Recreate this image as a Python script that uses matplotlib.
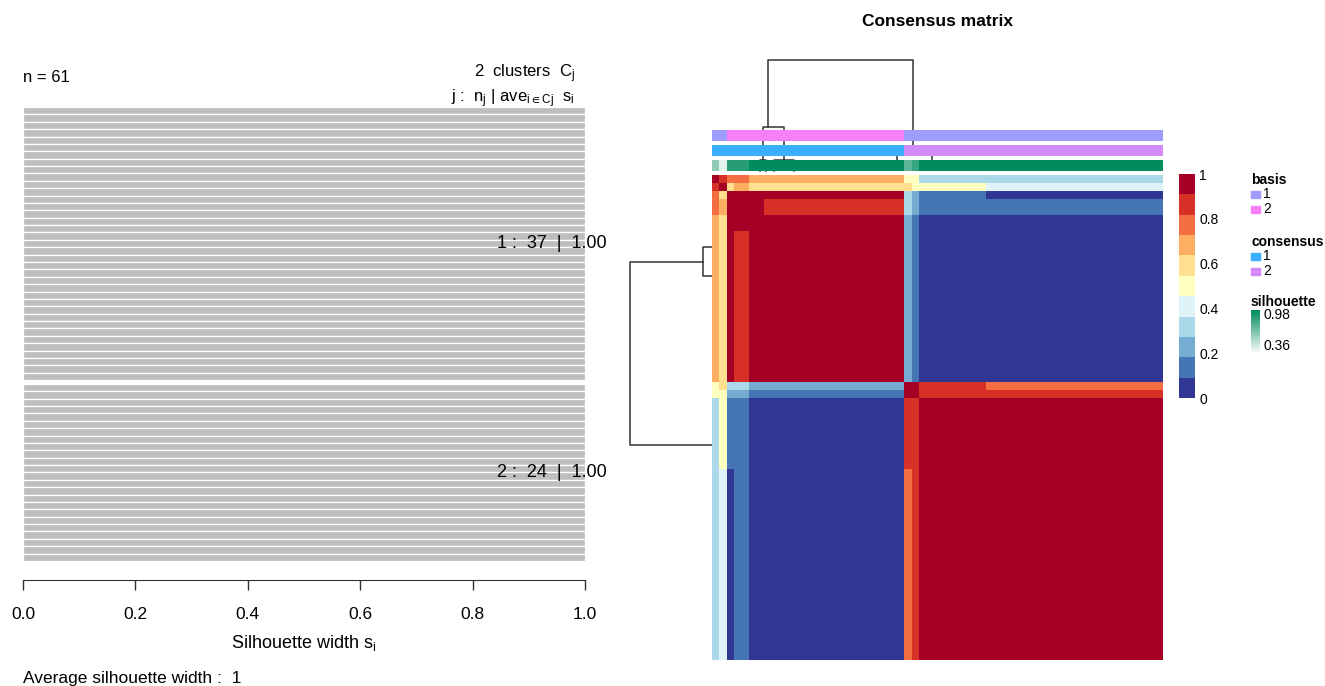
import numpy as np
import matplotlib.pyplot as plt
from matplotlib.colors import ListedColormap, Normalize, LinearSegmentedColormap
from matplotlib.cm import ScalarMappable
from matplotlib.patches import Rectangle

plt.rcParams['font.family'] = ['Liberation Sans', 'DejaVu Sans']
plt.rcParams['mathtext.default'] = 'regular'

# ---------------- silhouette panel data
cluster_names = ['1', '2']
cluster_sizes = [37, 24]
cluster_means = [1.00, 1.00]
sil_widths = {'1': [1.00] * 37, '2': [1.00] * 24}
avg_width = 1
sil_ticks = [0.0, 0.2, 0.4, 0.6, 0.8, 1.0]

# ---------------- consensus matrix (row profiles as (value, run length) over the 61 columns)
profiles = {
    'a': [(1.00, 1), (0.85, 1), (0.75, 3), (0.65, 21), (0.50, 2), (0.30, 33)],
    'b': [(0.85, 1), (1.00, 1), (0.60, 1), (0.65, 2), (0.60, 22), (0.50, 10), (0.40, 24)],
    'c': [(0.75, 1), (0.60, 1), (1.00, 24), (0.30, 1), (0.20, 1), (0.10, 9), (0.00, 24)],
    'd': [(0.75, 1), (0.65, 1), (1.00, 5), (0.85, 19), (0.30, 1), (0.20, 1), (0.10, 33)],
    'e': [(0.65, 1), (0.60, 1), (1.00, 24), (0.20, 1), (0.10, 1), (0.00, 33)],
    'f': [(0.65, 1), (0.60, 1), (1.00, 1), (0.85, 2), (1.00, 21), (0.20, 1), (0.10, 1), (0.00, 33)],
    'g': [(0.50, 1), (0.60, 1), (0.30, 3), (0.20, 21), (1.00, 2), (0.85, 9), (0.75, 24)],
    'h': [(0.50, 1), (0.50, 1), (0.20, 3), (0.10, 21), (1.00, 2), (0.85, 33)],
    'i': [(0.30, 1), (0.50, 1), (0.10, 3), (0.00, 21), (0.85, 2), (1.00, 33)],
    'j': [(0.30, 1), (0.40, 1), (0.00, 1), (0.10, 2), (0.00, 21), (0.75, 1), (0.85, 1), (1.00, 33)],
}
row_runs = [('a', 1), ('b', 1), ('c', 1), ('d', 2), ('e', 2), ('f', 19),
            ('g', 1), ('h', 1), ('i', 9), ('j', 24)]

# column annotations
basis_runs = [(1, 2), (2, 24), (1, 35)]
consensus_runs = [(1, 26), (2, 35)]
silhouette_runs = [(0.61, 1), (0.40, 1), (0.88, 3), (0.98, 21), (0.745, 1), (0.84, 1), (0.98, 33)]
sil_range = (0.36, 0.98)

# dendrograms: (left leaf pos, right leaf pos, merge height, left child height, right child height)
col_merges = [(7.09, 26.75, 1.00, 0.40, 0.20),
              (6.41, 9.26, 0.40, 0.10, 0.10),
              (24.6, 29.3, 0.20, 0.05, 0.05),
              (6.0, 6.8, 0.10, 0.0, 0.0),
              (7.9, 10.6, 0.10, 0.0, 0.0)]
row_merges = [(10.44, 33.46, 1.00, 0.11, 0.0),
              (8.56, 12.2, 0.11, 0.0, 0.0)]

heat_colors = ['#313695', '#4575B4', '#74ADD1', '#ABD9E9', '#E0F3F8', '#FFFFBF',
               '#FEE090', '#FDAE61', '#F46D43', '#D73027', '#A50026']
basis_colors = ['#9F9CFB', '#F47FF7']
consensus_colors = ['#3AB0FC', '#D28BF7']
sil_colors = ['#F4F9F7', '#008C5F']
cbar_ticks = [0, 0.2, 0.4, 0.6, 0.8, 1]


def expand(runs):
    out = []
    for v, k in runs:
        out += [v] * k
    return out


consensus = np.array([expand(profiles[p]) for p, k in row_runs for _ in range(k)])
n = consensus.shape[0]

W, H = 1325, 686
fig = plt.figure(figsize=(W / 100, H / 100), dpi=100)


def px_axes(x0, y0, x1, y1):
    return fig.add_axes([x0 / W, 1 - y1 / H, (x1 - x0) / W, (y1 - y0) / H])


# ================= silhouette plot
ax = px_axes(23, 107, 585, 561)
gap = 0.5
top = sum(cluster_sizes) + gap * (len(cluster_sizes) - 1)
y = top
centers = []
for name, size in zip(cluster_names, cluster_sizes):
    vals = sil_widths[name]
    ys = [y - 0.5 - k for k in range(size)]
    ax.barh(ys, vals, height=1, color='#BEBEBE', edgecolor='white', linewidth=0.9)
    centers.append(np.mean(ys))
    y -= size + gap
ax.set_xlim(0, 1)
ax.set_ylim(0, top)
for s in ['top', 'right', 'left']:
    ax.spines[s].set_visible(False)
ax.spines['bottom'].set_position(('outward', 14))
ax.spines['bottom'].set_bounds(0, 1)
ax.spines['bottom'].set_color('#333333')
ax.set_yticks([])
ax.set_xticks(sil_ticks)
ax.set_xticklabels([f'{t:.1f}' for t in sil_ticks], fontsize=12.5)
ax.tick_params(axis='x', length=7, width=1, color='#333333', pad=12)
ax.set_xlabel('Silhouette width s$_i$', fontsize=13, labelpad=8)

for c, name, size, m in zip(centers, cluster_names, cluster_sizes, cluster_means):
    ax.text(0.843, c, f'{name} :  {size}  |  {m:.2f}', fontsize=13,
            va='center', ha='left', clip_on=False)

fig.text(23 / W, 1 - 78 / H, f'n = {n}', fontsize=12, va='center')
fig.text(575 / W, 1 - 74 / H, f'{len(cluster_names)}  clusters  C$_j$',
         fontsize=12, va='center', ha='right')
fig.text(575 / W, 1 - 99 / H, r'j :  n$_j$ | ave$_{i\in Cj}$  s$_i$',
         fontsize=12, va='center', ha='right')
fig.text(23 / W, 1 - 679 / H, f'Average silhouette width :  {avg_width}',
         fontsize=12.5, va='center')

# ================= consensus heatmap
cmap = ListedColormap(heat_colors)
norm = Normalize(0, 1)
hx0, hx1, hy0, hy1 = 712, 1162, 175, 660

# dendrograms first so the annotation tracks sit on top of them
axd = px_axes(hx0, 60, hx1, 171)
for xl, xr, h, hl, hr in col_merges:
    axd.plot([xl, xl, xr, xr], [hl, h, h, hr], color='#333333', lw=1.1, clip_on=False)
axd.set_xlim(-0.5, n - 0.5)
axd.set_ylim(0, 1)
axd.set_axis_off()

axr = px_axes(630, hy0, hx0, hy1)
for yl, yr, h, hl, hr in row_merges:
    axr.plot([hl, h, h, hr], [yl, yl, yr, yr], color='#333333', lw=1.1, clip_on=False)
axr.set_xlim(1, 0)
axr.set_ylim(n - 0.5, -0.5)
axr.set_axis_off()

axh = px_axes(hx0, hy0, hx1, hy1)
axh.imshow(consensus, cmap=cmap, norm=norm, aspect='auto', interpolation='nearest')
axh.set_axis_off()

tracks = [
    (130, 141, np.array(expand(basis_runs)) - 1, ListedColormap(basis_colors), Normalize(-0.5, 1.5)),
    (145, 156.5, np.array(expand(consensus_runs)) - 1, ListedColormap(consensus_colors), Normalize(-0.5, 1.5)),
    (159.5, 171.5, np.array(expand(silhouette_runs)),
     LinearSegmentedColormap.from_list('sil', sil_colors), Normalize(*sil_range)),
]
for y0, y1, vals, tcmap, tnorm in tracks:
    at = px_axes(hx0, y0, hx1, y1)
    at.imshow(vals[None, :], cmap=tcmap, norm=tnorm, aspect='auto', interpolation='nearest')
    at.set_axis_off()

fig.text(937 / W, 1 - 22 / H, 'Consensus matrix', fontsize=12.5, fontweight='bold',
         ha='center', va='center')

# colour key
cax = px_axes(1179, 174, 1195, 398)
cb = fig.colorbar(ScalarMappable(norm=norm, cmap=cmap), cax=cax, ticks=cbar_ticks)
cb.outline.set_visible(False)
cb.ax.set_yticklabels([f'{t:g}' for t in cbar_ticks])
cb.ax.tick_params(length=0, labelsize=10, pad=3)

# annotation legends
axl = px_axes(1245, 165, 1325, 365)
legend_groups = [('basis', 180, basis_colors), ('consensus', 242, consensus_colors)]
for title, ty, cols in legend_groups:
    axl.text(1251, ty, title, fontsize=10, fontweight='bold', va='center')
    for k, col in enumerate(cols):
        yy = ty + 14.5 + 15 * k
        axl.add_patch(Rectangle((1251, yy - 3.7), 8.5, 7.4, color=col))
        axl.text(1263, yy, str(k + 1), fontsize=10, va='center')
axl.text(1251, 302, 'silhouette', fontsize=10, fontweight='bold', va='center')
grad = np.linspace(sil_range[1], sil_range[0], 50)[:, None]
axl.imshow(grad, cmap=LinearSegmentedColormap.from_list('sil', sil_colors),
           norm=Normalize(*sil_range), extent=(1251, 1259.5, 352, 310), aspect='auto')
axl.set_xlim(1245, 1325)
axl.set_ylim(365, 165)
axl.set_axis_off()
axl.text(1263, 315, f'{sil_range[1]:.2f}', fontsize=10, va='center')
axl.text(1263, 346, f'{sil_range[0]:.2f}', fontsize=10, va='center')

fig.savefig('out.png', dpi=100)
